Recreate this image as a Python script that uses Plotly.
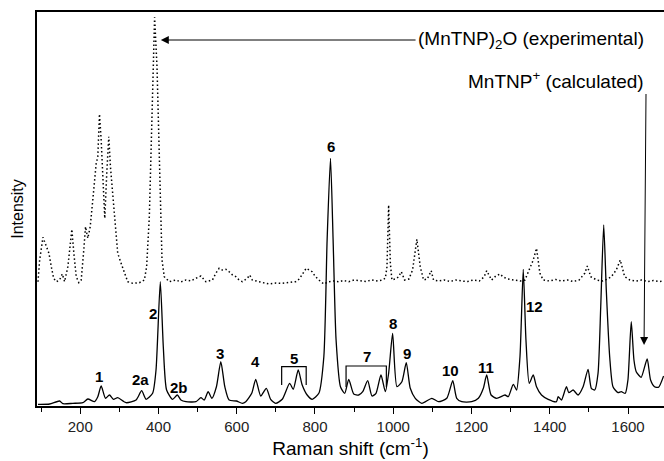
import plotly.graph_objects as go

# ---- Calculated spectrum (MnTNP+), solid line; intensity in arbitrary units ----
calc_shift = [92, 121.8, 147.2, 155.7, 181.1, 206.6, 219.4, 236.4, 244.9, 253.5, 264.5, 274.7, 284.9, 295.8,
              317.2, 342.7, 357, 368.2, 385, 393.7, 404.6, 412.3, 420.7, 436, 448, 457.4, 470.1, 495.6,
              508.4, 516.8, 527, 536.4, 548.1, 559.3, 569.5, 580.5, 599.1, 614.4,
              623, 638.3, 648.5, 661.3, 675.6, 686.7, 699.5, 716.3, 735.2, 744.4, 757.1, 767.3, 780, 792.8,
              809.8, 822.6, 831, 839.6, 846.3, 853.9, 865.1, 876.1, 886.3, 899, 911.8, 922, 934.7, 945.7,
              955.9, 968.6, 979.8, 988.2, 998.4, 1009.4, 1022.1, 1033.3, 1043.5, 1056.3, 1073.1, 1098.6,
              1115.6, 1136.8, 1152.1,
              1162.3, 1175, 1200.5, 1217.6, 1230.3, 1238.8, 1250, 1264.2, 1285.6, 1294, 1306.8, 1315.2,
              1323.9, 1332.3, 1339.2, 1347.6, 1357.8, 1366.2, 1378.9, 1396, 1417.1, 1421.5, 1429.9, 1442.6,
              1448.7, 1459.7, 1472.4, 1485.2, 1497.9, 1506.3, 1515, 1523.4, 1530.3, 1537.9, 1544.5, 1553.2,
              1561.6, 1574.3, 1582.8, 1593, 1599.8, 1608.3, 1615.2, 1621, 1627.1, 1633.8, 1649, 1657.7,
              1667.9, 1678.1, 1691]
calc_intensity = [1.7, 2, 5, 2.3, 2.7, 3.3, 7, 4.3, 9.3, 20, 7.7, 11, 6.7, 8.3,
                  3.3, 6, 15.3, 6.7, 12.7, 36, 124.3, 59.3, 16, 6.7, 11, 6, 4.3, 4.3,
                  8.3, 6, 14.3, 7.7, 19.3, 44.3, 19.3, 6, 5, 2.7,
                  4.3, 12.7, 26.7, 10, 17.7, 6.7, 2.7, 6.7, 22.7, 16.7, 36, 21, 11, 6.7,
                  12.7, 49.3, 166, 247.7, 166, 66, 19.3, 12.7, 26.7, 12, 11, 14.3, 25.3, 10,
                  12.7, 31, 14.3, 32.7, 72.7, 19.3, 24.3, 43.3, 17.7, 7.7, 2.7, 7.7,
                  4.3, 7.7, 25.3,
                  7.7, 4.3, 4.3, 7.7, 17.7, 31, 11, 7.7, 11, 9.3, 21.7, 16,
                  49.3, 136.7, 66, 22.7, 31, 19.3, 11, 6.7, 4.3, 9.3, 6, 19.3,
                  13.3, 16, 11, 19.3, 36.7, 17.7, 16, 32.7, 99.3, 181, 116, 49.3,
                  19.3, 13.3, 14.3, 12.7, 26, 84.3, 46, 34.3, 31, 28.7, 47, 26,
                  19.3, 18.7, 30]

# ---- Experimental spectrum ((MnTNP)2O), dotted line, offset upwards ----
exp_shift = [92, 96.3, 104.7, 113.4, 120, 126.1, 132, 138.8, 147.2, 154.1, 160, 168.4, 172.7, 178.6, 183.7,
             189.8, 196.4, 202.5, 208.4, 213.5, 219.4, 225.5, 232.1, 240.8, 244.9, 249.2, 253.5, 257.6,
             262.7, 267.8, 272.9, 277.2, 283.1, 290, 295.8, 304.5, 312.9, 321.3, 334, 351.1, 363.9, 369.7,
             376.6, 380.9, 385, 390.1, 396.2, 400.3, 403.9, 409, 414.8, 427.6, 444.7, 457, 470.1, 483,
             495.6, 508.4, 521.1, 537.9, 546.6, 555, 563, 572.1, 580.5, 589, 597.6, 606, 614.4, 620, 627.1,
             633.2, 639.9, 657, 670, 682.4, 700, 716.3, 733, 750.5, 760, 767.3, 777.5, 785, 792.8, 800,
             809.8, 822.6, 835.3, 848, 860.8, 873, 886.3, 900, 915, 930, 945, 960, 972, 979.8, 984, 988.2,
             992.6, 996.6, 1005, 1013, 1020.6, 1029, 1040, 1049.4, 1060.4, 1069, 1077.5, 1087, 1097, 1102.9,
             1115, 1130, 1145, 1160, 1175, 1190, 1205, 1220, 1232, 1238.8, 1251.5, 1262, 1272.9, 1281,
             1292, 1311.1, 1325, 1336.6, 1349.3, 1357.8, 1366.2, 1374.8, 1383.3, 1400, 1415, 1430, 1445,
             1460, 1475, 1489.5, 1496.1, 1504.8, 1520, 1535, 1548, 1557.3, 1570, 1580.2, 1591.4, 1605,
             1620, 1635, 1650, 1665, 1680, 1691]
exp_intensity = [124.3, 146, 168.7, 159.3, 152.7, 139.3, 127.7, 124.3, 126, 132, 124.3, 139.3, 156, 176.7, 152.7,
                 129.3, 123.3, 126, 152.7, 179.3, 167.7, 179.3, 206, 242.7, 249.3, 292, 266, 232.7,
                 187.7, 232.7, 269.3, 239.3, 212.7, 179.3, 152.7, 142.7, 132.7, 124.3, 122.7, 123.3, 126, 139.3,
                 189.3, 256, 322.7, 388.7, 339.3, 272.7, 206, 146, 129.3, 124.3, 126, 124, 126, 125,
                 127.7, 130, 124.3, 126, 132.7, 137.7, 136, 136.7, 134.3, 131, 129.3, 126, 124.3, 125.5, 127.7,
                 131, 126, 124.3, 123.5, 122, 123, 122.7, 123.5, 124.3, 127, 131, 137.7, 136, 134.3, 130,
                 126, 122, 124.3, 125, 124.3, 125.5, 124.3, 126, 125, 124.5, 126, 125, 126, 127.7, 139.3, 201,
                 142.7, 126, 127, 129, 134.3, 126, 127, 136, 166.7, 139.3, 126, 127, 135.3, 126,
                 125, 126, 124.5, 126, 125, 124.5, 126, 125, 129, 135.3, 126, 130, 132, 129,
                 127, 126, 125, 126, 137.7, 146, 157.7, 132.7, 126, 125, 126.5, 125, 126,
                 124.5, 126, 132.7, 140, 129.3, 126, 125, 127, 129.3, 136, 146, 129.3, 126,
                 125, 126, 124.5, 125.5, 124.5, 125]

# ---- Peak labels ----
peak_labels = ["1", "2a", "2", "2b", "3", "4", "5", "6", "7", "8", "9", "10", "11", "12"]
peak_label_shift = [249, 353.7, 386.8, 453, 557.5, 646.7, 746, 841.2, 933, 998.4, 1034.9, 1146, 1236.3, 1360.3]
peak_label_intensity = [29.3, 26.7, 92.7, 18.7, 52.7, 44.3, 47.7, 260, 49.3, 82.7, 52.7, 36, 38.3, 100]

# bracket groups (5 and 7): left, right, top, bottom
bracket_left = [714.8, 879.4]
bracket_right = [777.5, 982.4]
bracket_top = [39.3, 40]
bracket_bottom = [21, 19]

x_range = [89.5, 1692]
y_range = [0, 394]

FONT = "Arial, Liberation Sans, sans-serif"

fig = go.Figure()
fig.add_trace(go.Scatter(x=exp_shift, y=exp_intensity, mode="lines",
                         line=dict(color="black", width=1.5, dash="1.5px,2.5px"),
                         showlegend=False, hoverinfo="skip"))
fig.add_trace(go.Scatter(x=calc_shift, y=calc_intensity, mode="lines",
                         line=dict(color="black", width=1.3, shape="spline", smoothing=0.6),
                         showlegend=False, hoverinfo="skip"))

for t, x, y in zip(peak_labels, peak_label_shift, peak_label_intensity):
    fig.add_annotation(x=x, y=y, text=t, showarrow=False, xanchor="center", yanchor="middle",
                       font=dict(family=FONT, size=15, color="black", weight="bold"))

for l, r, t, b in zip(bracket_left, bracket_right, bracket_top, bracket_bottom):
    fig.add_shape(type="path", path=f"M {l} {b} L {l} {t} L {r} {t} L {r} {b}",
                  line=dict(color="black", width=1.2), xref="x", yref="y")

# series labels with arrows (text at arrow tail)
fig.add_annotation(x=406, y=366, ax=1057, ay=366, axref="x", ayref="y", xref="x", yref="y",
                   text="(MnTNP)<sub>2</sub>O (experimental)", xanchor="left", yanchor="middle",
                   showarrow=True, arrowhead=2, arrowsize=1.6, arrowwidth=1, arrowcolor="black",
                   font=dict(family=FONT, size=19, color="black"))
fig.add_annotation(x=1641, y=61, ax=1646, ay=312, axref="x", ayref="y", xref="x", yref="y",
                   text="MnTNP<sup>+</sup> (calculated)", xanchor="right", yanchor="bottom",
                   showarrow=True, arrowhead=2, arrowsize=1.6, arrowwidth=1, arrowcolor="black",
                   font=dict(family=FONT, size=19, color="black"))

fig.update_layout(
    width=664, height=461,
    margin=dict(l=37, r=0, t=12, b=55),
    paper_bgcolor="white", plot_bgcolor="white",
    font=dict(family=FONT, color="black"),
    xaxis=dict(range=x_range, tickvals=[200, 400, 600, 800, 1000, 1200, 1400, 1600],
               ticks="outside", ticklen=6, tickwidth=1.2, tickcolor="black",
               minor=dict(ticks="outside", ticklen=4, tickwidth=1.2, tickcolor="black", dtick=100, tick0=0),
               showline=True, linecolor="black", linewidth=1.5, mirror=True, showgrid=False, zeroline=False,
               tickfont=dict(family=FONT, size=15, color="#222"),
               title=dict(text="Raman shift (cm<sup>-1</sup>)", font=dict(family=FONT, size=19, color="black"),
                          standoff=2)),
    yaxis=dict(range=y_range, showticklabels=False, ticks="", showline=True, linecolor="black",
               linewidth=1.5, showgrid=False, zeroline=False,
               title=dict(text="Intensity", font=dict(family=FONT, size=16, color="black"), standoff=8)),
)

fig.write_html("out.html", config={"displayModeBar": False},
               post_script="document.body.style.margin='0';document.body.style.overflow='hidden';")
